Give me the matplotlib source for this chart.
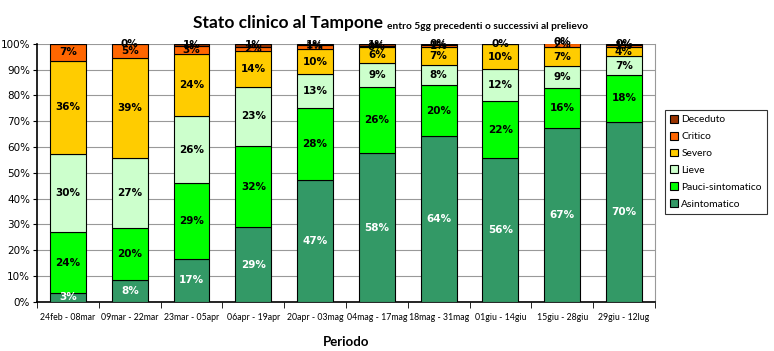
import numpy as np
import matplotlib
matplotlib.use("Agg")
import matplotlib.pyplot as plt

# Periodi (finestre di 14 giorni)
periodi = ['24feb - 08mar', '09mar - 22mar', '23mar - 05apr', '06apr - 19apr',
           '20apr - 03mag', '04mag - 17mag', '18mag - 31mag', '01giu - 14giu',
           '15giu - 28giu', '29giu - 12lug']

# quote percentuali per stato clinico (dal basso verso l'alto), nan = nessun caso
asintomatico = [3.4, 8.3, 16.8, 28.9, 47.2, 57.6, 64.3, 55.6, 67.2, 69.8]
pauci = [23.6, 20.2, 29.2, 31.6, 28.1, 25.8, 19.7, 22.2, 15.6, 18.2]
lieve = [30.4, 27.4, 25.9, 22.7, 12.9, 9.1, 7.9, 12.4, 8.6, 7.2]
severo = [36.0, 38.7, 24.3, 13.9, 9.8, 6.2, 6.7, 9.6, 7.2, 3.6]
critico = [6.6, 5.2, 2.9, 1.8, 1.4, 0.4, 1.1, 0.2, 1.9, 0.9]
deceduto = [np.nan, 0.2, 0.9, 1.1, 0.6, 0.9, 0.3, np.nan, 0.4, 0.3]

serie = [('Asintomatico', asintomatico, '#339966', 'white'),
         ('Pauci-sintomatico', pauci, '#00FF00', 'black'),
         ('Lieve', lieve, '#CCFFCC', 'black'),
         ('Severo', severo, '#FFCC00', 'black'),
         ('Critico', critico, '#FF6600', 'black'),
         ('Deceduto', deceduto, '#993300', 'black')]

fig = plt.figure(figsize=(7.74, 3.51), dpi=100)
ax = fig.add_axes([0.048, 0.140, 0.798, 0.735])

x = np.arange(len(periodi))
bottom = np.zeros(len(periodi))
handles = []
for nome, vals, col, tcol in serie:
    vals = np.array(vals, dtype=float)
    h = np.nan_to_num(vals)
    b = ax.bar(x, h, 0.58, bottom=bottom, color=col, edgecolor='black',
               linewidth=0.8, label=nome, zorder=3)
    handles.append(b)
    for xi, v, b0 in zip(x, vals, bottom):
        if np.isnan(v):
            continue
        ax.text(xi, b0 + v / 2, '{:.0f}%'.format(v), ha='center', va='center',
                fontsize=7.5, fontweight='bold', color=tcol,
                family='DejaVu Sans', zorder=4)
    bottom += h

ax.set_xlim(-0.5, len(periodi) - 0.5)
ax.set_ylim(0, 100)
ax.set_yticks(np.arange(0, 101, 10))
ax.set_yticklabels(['{}%'.format(v) for v in range(0, 101, 10)], fontsize=7.5)
ax.yaxis.grid(True, color='#999999', linewidth=0.8, zorder=0)

ax.set_xticks(x)
ax.set_xticklabels(periodi, fontsize=6.3, family='Lato')
ax.tick_params(axis='x', length=0, pad=8)
ax.set_xticks(np.arange(-0.5, len(periodi)), minor=True)
ax.tick_params(axis='x', which='minor', length=4, direction='out')
ax.tick_params(axis='y', length=3, direction='out', pad=2)

ax.spines['top'].set_visible(False)
ax.spines['right'].set_color('#999999')
ax.spines['left'].set_linewidth(1.2)
ax.spines['bottom'].set_linewidth(1.2)

ax.set_xlabel('Periodo', fontsize=9.5, fontweight='bold', family='Lato',
              labelpad=10)

leg = ax.legend(handles[::-1], [s[0] for s in serie][::-1],
                loc='upper left', bbox_to_anchor=(1.008, 0.765),
                prop={'family': 'Lato', 'size': 7.4}, frameon=True,
                fancybox=False, edgecolor='black', handlelength=0.8,
                handleheight=0.8, handletextpad=0.3, labelspacing=0.72,
                borderpad=0.5)
leg.get_frame().set_linewidth(0.8)

fig.text(0.495, 0.935, 'Stato clinico al Tampone', ha='right', va='center',
         fontsize=12.5, fontweight='bold', family='Lato')
fig.text(0.500, 0.925, 'entro 5gg precedenti o successivi al prelievo',
         ha='left', va='center', fontsize=7.3, fontweight='bold', family='Lato')

fig.savefig('out.png', dpi=100)
